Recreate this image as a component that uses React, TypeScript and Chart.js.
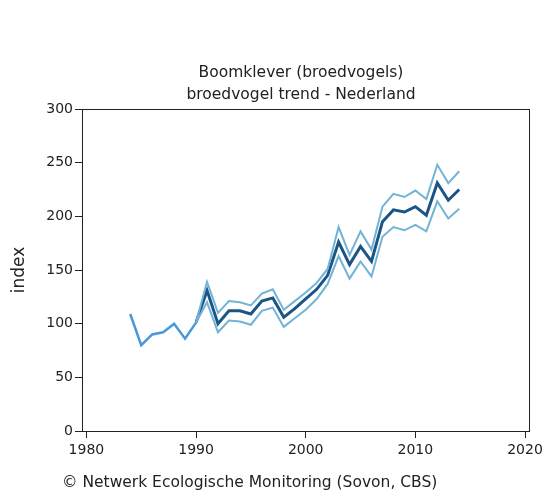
import React, { useEffect, useRef } from "react";
import { Chart, registerables } from "chart.js";

Chart.register(...registerables);

const earlyYears = [1984, 1985, 1986, 1987, 1988, 1989, 1990];
const earlyValues = [109, 80, 90, 92, 100, 86, 101];

const trendYears = [1990, 1991, 1992, 1993, 1994, 1995, 1996, 1997, 1998, 1999, 2000, 2001, 2002, 2003, 2004, 2005, 2006, 2007, 2008, 2009, 2010, 2011, 2012, 2013, 2014];
const trendValues = [101, 131, 100, 112, 112, 109, 121, 124, 106, 114, 123, 132, 145, 176, 155, 172, 158, 195, 206, 204, 209, 201, 231, 215, 225];
const upperValues = [101, 139, 110, 121, 120, 117, 128, 132, 113, 121, 129, 138, 151, 190, 164, 186, 169, 209, 221, 218, 224, 216, 248, 231, 242];
const lowerValues = [101, 120, 92, 103, 102, 99, 112, 115, 97, 105, 113, 123, 137, 163, 142, 158, 144, 181, 190, 187, 192, 186, 214, 198, 207];

const xTicks = [1980, 1990, 2000, 2010, 2020];
const titleLines = ["Boomklever (broedvogels)", "broedvogel trend - Nederland"];
const footerText = "© Netwerk Ecologische Monitoring (Sovon, CBS)";
const yTitle = "index";

const FONT = "'DejaVu Sans', Verdana, sans-serif";

function pts(xs: number[], ys: number[]) {
  return xs.map((x, i) => ({ x, y: ys[i] }));
}

const decorPlugin = {
  id: "decor",
  afterDraw(chart: any) {
    const { ctx, chartArea } = chart;
    ctx.save();
    ctx.strokeStyle = "#222";
    ctx.lineWidth = 1;
    ctx.strokeRect(
      Math.round(chartArea.left) + 0.5,
      Math.round(chartArea.top) + 0.5,
      Math.round(chartArea.right - chartArea.left),
      Math.round(chartArea.bottom - chartArea.top)
    );
    ctx.fillStyle = "#222";
    ctx.font = `15.5px ${FONT}`;
    ctx.textAlign = "center";
    ctx.textBaseline = "middle";
    const cx = 301;
    ctx.fillText(titleLines[0], cx, 73);
    ctx.fillText(titleLines[1], cx, 95);
    ctx.textAlign = "left";
    ctx.font = `15.5px ${FONT}`;
    ctx.fillText(footerText, 62, 483);
    ctx.restore();
  },
};

export default function App() {
  const ref = useRef<HTMLCanvasElement>(null);
  useEffect(() => {
    if (!ref.current) return;
    const chart = new Chart(ref.current, {
      type: "line",
      data: {
        datasets: [
          {
            data: pts(earlyYears, earlyValues),
            borderColor: "#4a98dc",
            borderWidth: 2.5,
            pointRadius: 0,
            tension: 0,
          },
          {
            data: pts(trendYears, upperValues),
            borderColor: "#72b3d6",
            borderWidth: 2,
            pointRadius: 0,
            tension: 0,
          },
          {
            data: pts(trendYears, lowerValues),
            borderColor: "#72b3d6",
            borderWidth: 2,
            pointRadius: 0,
            tension: 0,
          },
          {
            data: pts(trendYears, trendValues),
            borderColor: "#1b5585",
            borderWidth: 3,
            pointRadius: 0,
            tension: 0,
          },
        ],
      },
      options: {
        animation: false,
        responsive: false,
        maintainAspectRatio: false,
        layout: { padding: { top: 109, right: 16, bottom: 33, left: 0 } },
        plugins: {
          legend: { display: false },
          tooltip: { enabled: false },
          title: { display: false },
        },
        scales: {
          x: {
            type: "linear",
            min: 1979.6,
            max: 2020.4,
            afterBuildTicks: (scale: any) => {
              scale.ticks = xTicks.map((v) => ({ value: v }));
            },
            afterFit: (scale: any) => {
              scale.height = 30;
            },
            grid: {
              drawOnChartArea: false,
              drawTicks: true,
              tickLength: 7,
              color: "#222",
            },
            border: { display: true, color: "#222" },
            ticks: {
              color: "#222",
              font: { family: FONT, size: 14 },
              padding: 4,
              maxRotation: 0,
              callback: (v: any) => String(v),
            },
          },
          y: {
            type: "linear",
            min: 0,
            max: 300,
            afterFit: (scale: any) => {
              scale.width = 82;
            },
            grid: {
              drawOnChartArea: false,
              drawTicks: true,
              tickLength: 7,
              color: "#222",
            },
            border: { display: true, color: "#222" },
            ticks: {
              stepSize: 50,
              color: "#222",
              font: { family: FONT, size: 14 },
              padding: 2,
            },
            title: {
              display: true,
              text: yTitle,
              color: "#222",
              font: { family: FONT, size: 17 },
              padding: { top: 9, bottom: 0 },
            },
          },
        },
      },
      plugins: [decorPlugin],
    });
    return () => chart.destroy();
  }, []);
  return (
    <div style={{ position: "absolute", left: 0, top: 0, width: 547, height: 494, background: "#fff" }}>
      <canvas ref={ref} width={547} height={494} style={{ display: "block", width: 547, height: 494 }} />
    </div>
  );
}
